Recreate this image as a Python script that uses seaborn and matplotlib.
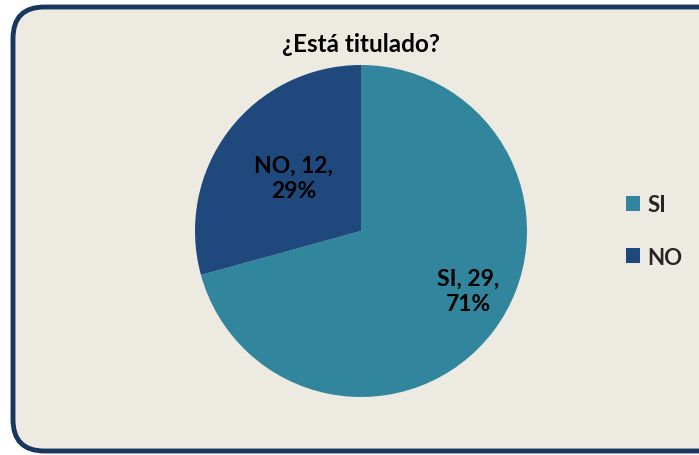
import numpy as np
import matplotlib
matplotlib.use("Agg")
import matplotlib.pyplot as plt
import seaborn as sns
from matplotlib.patches import FancyBboxPatch, Patch

# datos
categorias = ["SI", "NO"]
valores = [29, 12]
titulo = "¿Está titulado?"

colores = ["#31859C", "#1F497D"]
fondo = "#EDEBE1"
borde = "#17375E"

sns.set_theme(style="white")
plt.rcParams["font.family"] = ["Lato", "DejaVu Sans"]

W, H = 699, 456
fig = plt.figure(figsize=(W / 100, H / 100), dpi=100)
fig.patch.set_facecolor("white")

# marco redondeado
marco = FancyBboxPatch((13 / W, 4 / H), (W + 40) / W, (H - 12) / H,
                       boxstyle="round,pad=0,rounding_size=0.045",
                       transform=fig.transFigure, facecolor=fondo,
                       edgecolor=borde, linewidth=3.5, mutation_aspect=W / H,
                       zorder=-5)
fig.patches.append(marco)

# tarta
cx, cy, r = 361, 232, 166
ax = fig.add_axes([(cx - r) / W, (H - cy - r) / H, 2 * r / W, 2 * r / H])
ax.set_facecolor("none")
wedges, _ = ax.pie(valores, colors=colores, startangle=90, counterclock=False,
                   radius=1, wedgeprops=dict(linewidth=0))
ax.set_aspect("equal")
ax.set_xlim(-1, 1)
ax.set_ylim(-1, 1)

total = sum(valores)
ajustes = [(0.74, 8), (0.52, -1)]  # (radio, giro en grados) de cada etiqueta
for w, cat, val, (rr, giro) in zip(wedges, categorias, valores, ajustes):
    ang = np.deg2rad((w.theta1 + w.theta2) / 2 + giro)
    pct = round(100 * val / total)
    ax.text(rr * np.cos(ang), rr * np.sin(ang), f"{cat}, {val},\n{pct}%",
            ha="center", va="center", fontsize=16.5, fontweight="bold",
            color="black", linespacing=1.25)

fig.text(cx / W, 1 - 45 / H, titulo, ha="center", va="center",
         fontsize=17.5, fontweight="bold", color="black")

handles = [Patch(facecolor=c, edgecolor="none") for c in colores]
fig.legend(handles, categorias, loc="center left",
           bbox_to_anchor=(606 / W, 1 - 232 / H), frameon=False,
           prop=dict(size=16, weight="bold"), handlelength=0.65,
           handleheight=0.65, handletextpad=0.3, labelspacing=1.4)

fig.savefig("out.png", dpi=100)
